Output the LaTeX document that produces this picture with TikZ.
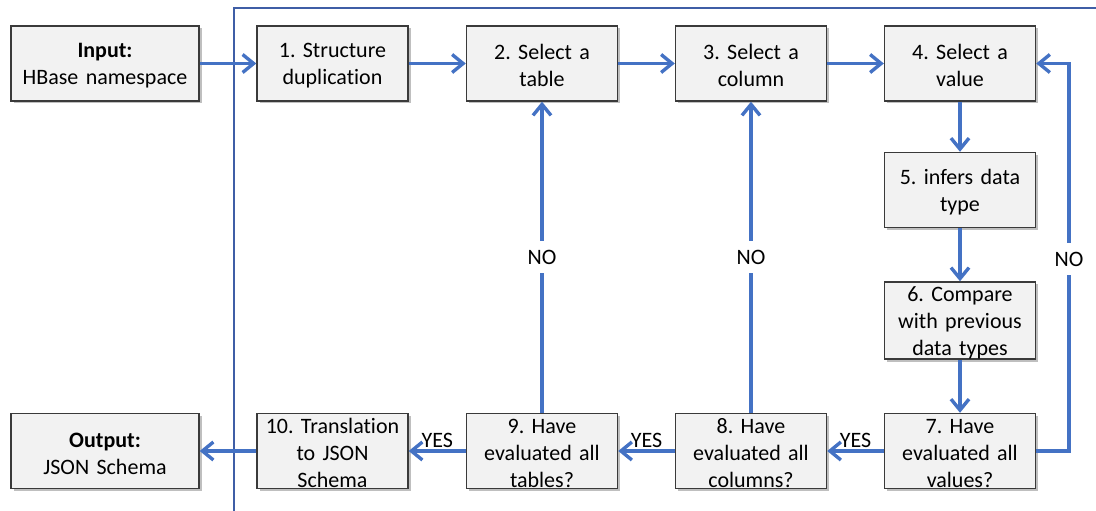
\documentclass[tikz,border=0pt]{standalone}
\usepackage{fontspec}
\setmainfont{Carlito}[Ligatures={NoCommon}]
\usetikzlibrary{arrows.meta,shadows,positioning}
\definecolor{flowblue}{HTML}{4472C4}
\definecolor{framebl}{HTML}{3F5EA6}
\definecolor{boxfill}{HTML}{F2F2F2}
\definecolor{boxline}{HTML}{3A3A3A}
\frenchspacing
\tikzset{
  stepbox/.style={draw=boxline, line width=1.4pt, fill=boxfill,
    minimum width=151pt, minimum height=75pt, text width=147pt,
    align=center, inner sep=0pt,
    font=\fontsize{22}{27}\selectfont,
    execute at begin node={\rule{0pt}{19.5pt}},
    drop shadow={shadow xshift=2.5pt, shadow yshift=-2.5pt,
      fill=black, opacity=0.25}},
  iobox/.style={stepbox, minimum width=188pt, text width=184pt},
  flow/.style={draw=flowblue, line width=3.4pt,
    -{Straight Barb[length=11pt,width=18pt,line width=3.4pt]}},
  nolabel/.style={fill=white, inner sep=0pt, minimum height=32pt,
    minimum width=30pt, font=\fontsize{22}{27}\selectfont},
  yeslabel/.style={anchor=base, yshift=4pt, inner sep=0pt,
    font=\fontsize{22}{27}\selectfont},
}
\begin{document}
\begin{tikzpicture}[x=1pt, y=-1pt]
\useasboundingbox (0,0) rectangle (1096,511);

% outer frame of the process area
\draw[framebl, line width=1.8pt] (234,511) -- (234,8) -- (1096,8);

% top row
\node[iobox]   (in) at (105,63.5)   {\textbf{Input:}\\HBase namespace};
\node[stepbox] (s1) at (332.5,63.5) {1. Structure\\duplication};
\node[stepbox] (s2) at (542,63.5)   {2. Select a\\table};
\node[stepbox] (s3) at (751,63.5)   {3. Select a\\column};
\node[stepbox] (s4) at (960,63.5)   {4. Select a\\value};
% right column
\node[stepbox] (s5) at (960,190)    {5. infers data\\type};
\node[stepbox] (s6) at (960,320.5)  {6. Compare\\with previous\\data types};
% bottom row
\node[stepbox] (s7)  at (960,451)   {7. Have\\evaluated all\\values?};
\node[stepbox] (s8)  at (751,451)   {8. Have\\evaluated all\\columns?};
\node[stepbox] (s9)  at (542,451)   {9. Have\\evaluated all\\tables?};
\node[stepbox] (s10) at (332.5,451) {10. Translation\\to JSON\\Schema};
\node[iobox]   (out) at (105,451)   {\textbf{Output:}\\JSON Schema};

\coordinate (loopb) at (1069,451);
\coordinate (loopt) at (1069,63.5);

% forward flow
\draw[flow] (in) -- (s1);
\draw[flow] (s1) -- (s2);
\draw[flow] (s2) -- (s3);
\draw[flow] (s3) -- (s4);
\draw[flow] (s4) -- (s5);
\draw[flow] (s5) -- (s6);
\draw[flow] (s6) -- (s7);
\draw[flow] (s7) -- node[yeslabel] {YES} (s8);
\draw[flow] (s8) -- node[yeslabel] {YES} (s9);
\draw[flow] (s9) -- node[yeslabel] {YES} (s10);
\draw[flow] (s10) -- (out);

% loops back
\draw[flow] (s9) -- node[nolabel] {NO} (s2);
\draw[flow] (s8) -- node[nolabel] {NO} (s3);
\draw[flow] (s7.east) -- (loopb) -- node[nolabel, pos=0.5, yshift=-2pt] {NO} (loopt) -- (s4.east);
\end{tikzpicture}
\end{document}
